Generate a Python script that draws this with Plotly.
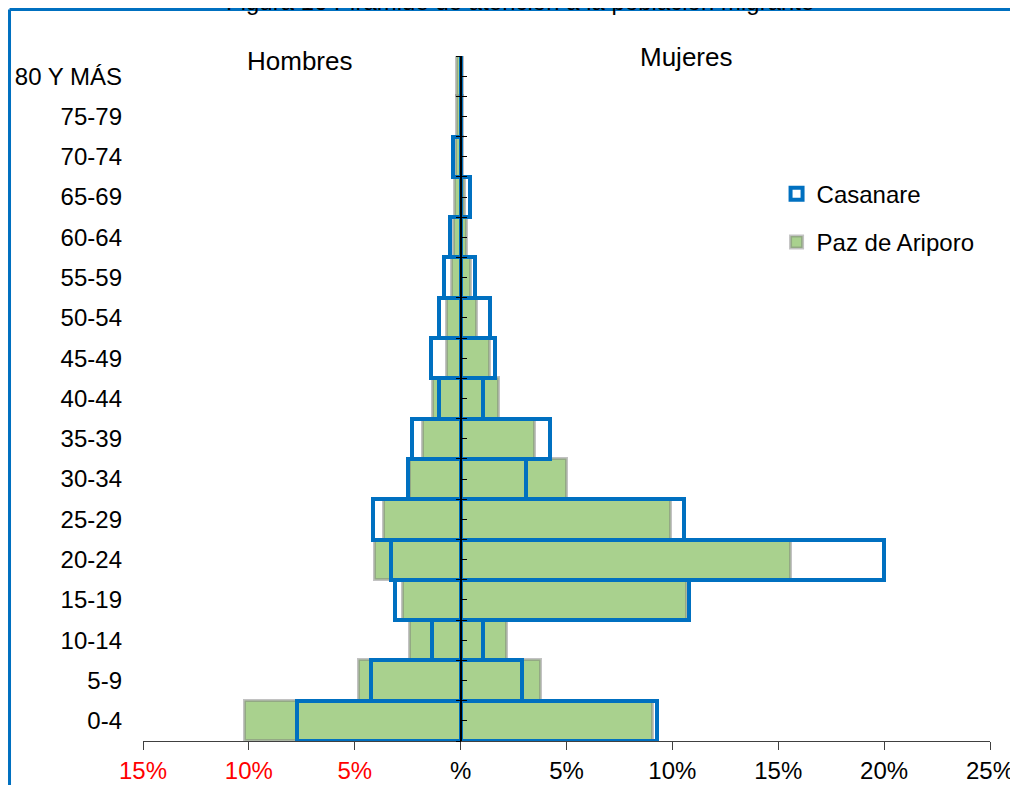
import plotly.graph_objects as go

EDADES = ['0-4', '5-9', '10-14', '15-19', '20-24', '25-29', '30-34', '35-39',
          '40-44', '45-49', '50-54', '55-59', '60-64', '65-69', '70-74',
          '75-79', '80 Y MÁS']

# porcentajes (hombres a la izquierda, se grafican negativos)
CAS_HOMBRES = [7.75, 4.25, 1.35, 3.1, 3.3, 4.15, 2.5, 2.3, 1.0, 1.42, 1.0, 0.8, 0.5, 0, 0.35, 0, 0]
CAS_MUJERES = [9.28, 2.88, 1.08, 10.77, 20.0, 10.57, 3.1, 4.2, 1.05, 1.6, 1.37, 0.7, 0, 0.45, 0, 0, 0]
PAZ_HOMBRES = [10.2, 4.8, 2.37, 2.7, 4.05, 3.6, 2.4, 1.8, 1.3, 0.65, 0.65, 0.4, 0.3, 0.25, 0.2, 0.15, 0.15]
PAZ_MUJERES = [9.1, 3.78, 2.2, 10.7, 15.6, 9.95, 5.0, 3.5, 1.8, 1.37, 0.75, 0.5, 0.3, 0.2, 0.1, 0.1, 0.1]

X_TICKS = [-15, -10, -5, 0, 5, 10, 15, 20, 25]
X_LABELS = ['<span style="color:#ff0000">15%</span>', '<span style="color:#ff0000">10%</span>',
            '<span style="color:#ff0000">5%</span>', '%', '5%', '10%', '15%', '20%', '25%']

AZUL = '#0070c0'
VERDE = '#a9d18e'
FONT = 'Liberation Sans, Arial, sans-serif'

pos = list(range(len(EDADES)))
fig = go.Figure()

# - Paz de Ariporo (relleno verde) --
for vals, show in [([-v for v in PAZ_HOMBRES], True), (PAZ_MUJERES, False)]:
    fig.add_trace(go.Bar(
        y=pos, x=vals, orientation='h', width=1,
        name='Paz de Ariporo', legendgroup='paz', legendrank=2, showlegend=show,
        marker=dict(color=VERDE, line=dict(color='rgba(120,120,120,0.45)', width=3)),
    ))

# - Casanare (solo contorno azul) --
for vals, show in [([-v for v in CAS_HOMBRES], True), (CAS_MUJERES, False)]:
    fig.add_trace(go.Bar(
        y=pos, x=vals, orientation='h', width=1,
        name='Casanare', legendgroup='cas', legendrank=1, showlegend=show,
        marker=dict(color='rgba(255,255,255,0)', line=dict(color=AZUL, width=4)),
    ))

fig.update_layout(
    width=1018, height=785,
    margin=dict(l=135, r=36, t=48, b=52),
    paper_bgcolor='white', plot_bgcolor='white',
    barmode='overlay', bargap=0,
    font=dict(family=FONT, size=24, color='black'),
    showlegend=True,
    legend=dict(x=0.748, y=0.831, xanchor='left', yanchor='top',
                traceorder='grouped', tracegroupgap=14,
                font=dict(size=24), itemwidth=30, bgcolor='rgba(0,0,0,0)'),
    xaxis=dict(range=[-15, 25], tickvals=X_TICKS, ticktext=X_LABELS,
               showgrid=False, showline=True, linecolor='#404040', linewidth=1,
               ticks='outside', ticklen=8, tickcolor='#404040',
               zeroline=False, automargin=False,
               tickfont=dict(size=24), fixedrange=True),
    yaxis=dict(range=[-0.5, 16.5], tickvals=pos, ticktext=EDADES,
               showgrid=False, showline=False, zeroline=False, ticks='',
               ticklabelstandoff=20, tickfont=dict(size=24), automargin=False),
    # eje central con sus marcas
    yaxis2=dict(overlaying='y', anchor='free', position=0.375, side='left',
                range=[-0.5, 16.5], tick0=-0.5, dtick=0.5, ticks='inside',
                ticklen=5, tickcolor='black', showticklabels=False,
                showgrid=False, zeroline=False, showline=True,
                linecolor='black', linewidth=2, automargin=False),
    yaxis3=dict(overlaying='y', anchor='free', position=0.375, side='left',
                range=[-0.5, 16.5], tick0=-0.5, dtick=1, ticks='outside',
                ticklen=5, tickcolor='black', showticklabels=False,
                showgrid=False, zeroline=False, showline=False, automargin=False),
)

fig.add_trace(go.Scatter(x=[], y=[], yaxis='y2', showlegend=False))
fig.add_trace(go.Scatter(x=[], y=[], yaxis='y3', showlegend=False))

fig.add_annotation(text='Hombres', x=0.185, y=0.992, xref='paper', yref='paper',
                   showarrow=False, font=dict(size=26), xanchor='center', yanchor='middle')
fig.add_annotation(text='Mujeres', x=0.641, y=0.998, xref='paper', yref='paper',
                   showarrow=False, font=dict(size=26), xanchor='center', yanchor='middle')
fig.add_annotation(text='Figura 16 Pirámide de atención a la población migrante',
                   x=0.445, y=1.080, xref='paper', yref='paper',
                   showarrow=False, font=dict(size=24), xanchor='center', yanchor='middle')

# marco del área del gráfico (recortado)
fig.add_shape(type='line', xref='paper', yref='paper', x0=-0.1576, x1=1.06,
              y0=1.0679, y1=1.0679, line=dict(color=AZUL, width=3))
fig.add_shape(type='line', xref='paper', yref='paper', x0=-0.1576, x1=-0.1576,
              y0=1.0679, y1=-0.09, line=dict(color=AZUL, width=3))

fig.write_html('out.html')
